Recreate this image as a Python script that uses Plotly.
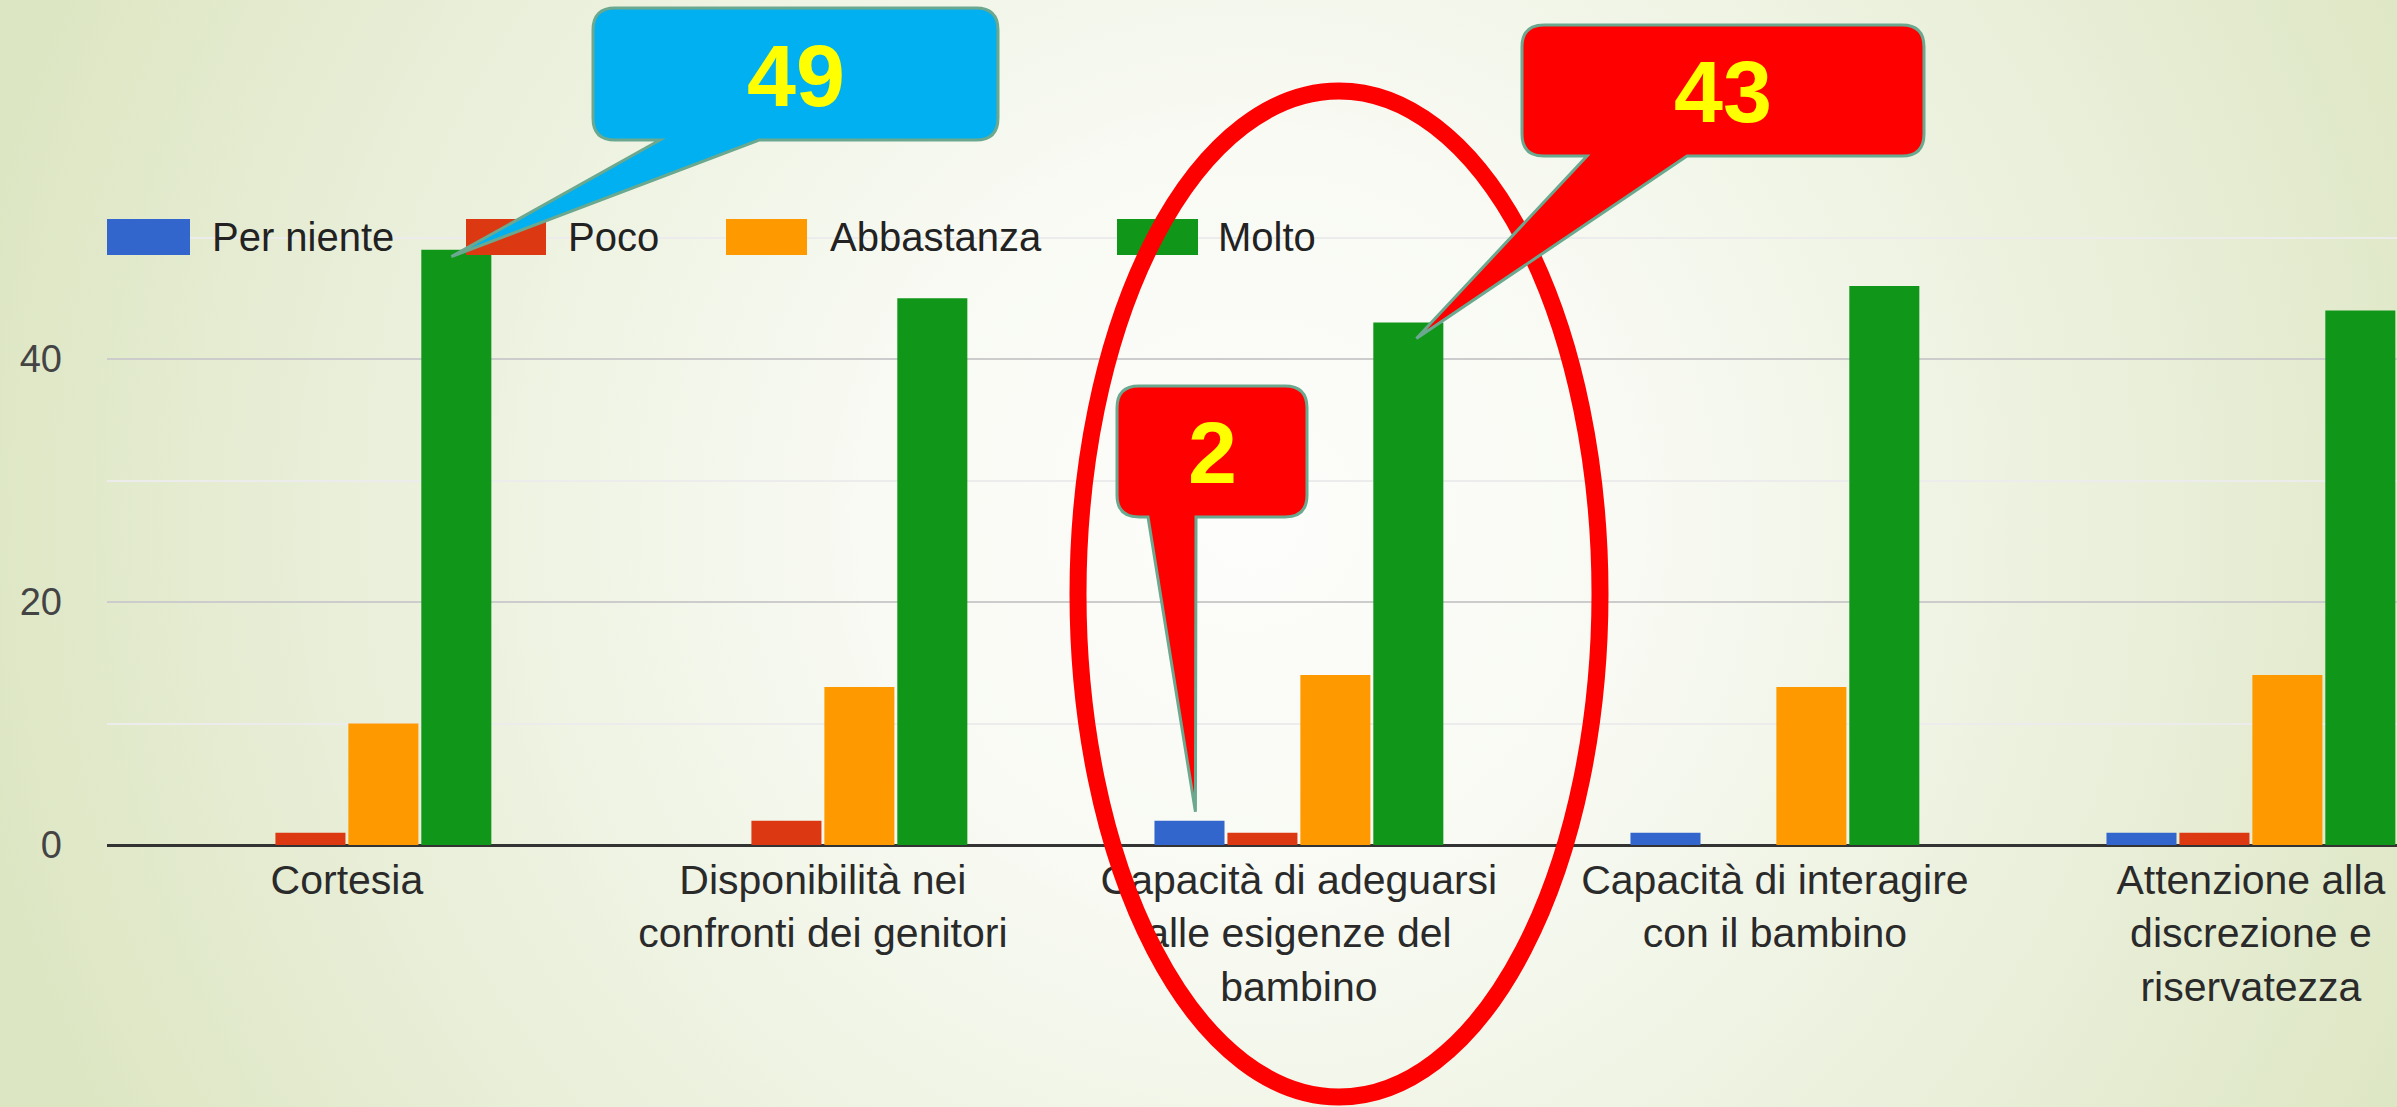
import base64

import plotly.graph_objects as go

categories = [
    "Cortesia",
    "Disponibilità nei<br>confronti dei genitori",
    "Capacità di adeguarsi<br>alle esigenze del<br>bambino",
    "Capacità di interagire<br>con il bambino",
    "Attenzione alla<br>discrezione e<br>riservatezza",
]
series_names = ["Per niente", "Poco", "Abbastanza", "Molto"]
per_niente = [0, 0, 2, 1, 1]
poco = [1, 2, 1, 0, 1]
abbastanza = [10, 13, 14, 13, 14]
molto = [49, 45, 43, 46, 44]
y_ticks = [0, 20, 40]
y_minor = [10, 30, 50]

colors = ["#3366cc", "#dc3912", "#ff9900", "#109618"]
series = [per_niente, poco, abbastanza, molto]

# page geometry (pixels)
W, H = 2397, 1107
L, B = 107, 262
PW, PH = W - L, H - B
UNIT = 12.15          # px per unit on y
SLOT = 476            # px per category
X0 = -0.504
Y1 = PH / UNIT


def px(x):
    return (x - L) / PW


def py(y):
    return (PH - y) / PH


def bar_center(cat, k):
    return L + (cat - X0) * SLOT + (k - 1.5) * 73


def bar_top(v):
    return PH - v * UNIT


fig = go.Figure()
for name, vals, col in zip(series_names, series, colors):
    fig.add_trace(go.Bar(x=list(range(len(categories))), y=vals, name=name,
                         marker=dict(color=col, line=dict(width=0))))

# background gradient
svg = (
    "<svg xmlns='http://www.w3.org/2000/svg' width='2397' height='1107'>"
    "<defs><radialGradient id='g' gradientUnits='userSpaceOnUse' cx='1250' cy='520' r='1300'>"
    "<stop offset='0' stop-color='#fdfdfb'/>"
    "<stop offset='0.3' stop-color='#f8faf3'/>"
    "<stop offset='0.7' stop-color='#e9efd9'/>"
    "<stop offset='1' stop-color='#dde6c3'/>"
    "</radialGradient></defs>"
    "<rect width='2397' height='1107' fill='url(#g)'/></svg>"
)
bg = "data:image/svg+xml;base64," + base64.b64encode(svg.encode()).decode()

shapes = []
annotations = []

# legend (drawn by hand to get the wide swatches)
legend_items = [(107, 190, 210), (466, 546, 566), (726, 807, 828), (1117, 1198, 1216)]
for (sx0, sx1, tx), name, col in zip(legend_items, series_names, colors):
    shapes.append(dict(type="rect", xref="paper", yref="paper",
                       x0=px(sx0), x1=px(sx1), y0=py(255), y1=py(219),
                       fillcolor=col, line=dict(width=0), layer="above"))
    annotations.append(dict(xref="paper", yref="paper", x=px(tx), y=py(237),
                            text=name, showarrow=False, xanchor="left", yanchor="middle",
                            font=dict(size=40, color="#222222")))

# red ellipse
cx, cy, rx, ry = 1339, 594, 261, 503
shapes.append(dict(type="circle", xref="paper", yref="paper",
                   x0=px(cx - rx), x1=px(cx + rx), y0=py(cy + ry), y1=py(cy - ry),
                   line=dict(color="#ff0000", width=17), layer="above"))


def callout(box, base, tip, fill, r=22):
    x0, y0, x1, y1 = box
    bl, br = base
    pts = [
        ("M", (x0 + r, y0)), ("L", (x1 - r, y0)), ("Q", (x1, y0), (x1, y0 + r)),
        ("L", (x1, y1 - r)), ("Q", (x1, y1), (x1 - r, y1)),
        ("L", (br, y1)), ("L", tip), ("L", (bl, y1)),
        ("L", (x0 + r, y1)), ("Q", (x0, y1), (x0, y1 - r)),
        ("L", (x0, y0 + r)), ("Q", (x0, y0), (x0 + r, y0)),
    ]
    path = ""
    for p in pts:
        path += p[0] + " ".join("%.5f,%.5f" % (px(a), py(b)) for a, b in p[1:]) + " "
    shapes.append(dict(type="path", xref="paper", yref="paper", path=path + "Z",
                       fillcolor=fill, line=dict(color="#6aa88f", width=3), layer="above"))


callouts = [
    # (value, box, pointer base, tip, fill)
    (molto[0], (593, 8, 998, 140), (660, 759),
     (bar_center(0, 3) - 5, bar_top(molto[0]) + 7), "#00b0f0"),
    (molto[2], (1522, 25, 1924, 156), (1587, 1687),
     (bar_center(2, 3) + 8, bar_top(molto[2]) + 16), "#ff0000"),
    (per_niente[2], (1117, 386, 1307, 517), (1148, 1196),
     (bar_center(2, 0) + 6, bar_top(per_niente[2]) - 9), "#ff0000"),
]
for val, box, base, tip, fill in callouts:
    callout(box, base, tip, fill)
    annotations.append(dict(xref="paper", yref="paper",
                            x=px((box[0] + box[2]) / 2), y=py((box[1] + box[3]) / 2),
                            text="<b>%d</b>" % val, showarrow=False,
                            xanchor="center", yanchor="middle", yshift=-1,
                            font=dict(size=88, color="#ffff00", family="Liberation Sans")))

fig.update_layout(
    width=W, height=H,
    margin=dict(l=L, r=0, t=0, b=B, pad=0),
    paper_bgcolor="#f4f7ec", plot_bgcolor="rgba(0,0,0,0)",
    font=dict(family="Liberation Sans, Arial, sans-serif"),
    barmode="group", bargap=0.387, bargroupgap=0.04,
    showlegend=False,
    shapes=shapes, annotations=annotations,
    images=[dict(source=bg, xref="paper", yref="paper", x=px(0), y=py(0),
                 sizex=W / PW, sizey=H / PH, xanchor="left", yanchor="top",
                 sizing="stretch", layer="below")],
    xaxis=dict(range=[X0, X0 + PW / SLOT], tickmode="array",
               tickvals=list(range(len(categories))), ticktext=categories,
               showgrid=False, zeroline=False, showline=False, ticks="",
               tickfont=dict(size=41, color="#2a2a2a"), ticklabelstandoff=7,
               fixedrange=True),
    yaxis=dict(range=[0, Y1], tickmode="array", tickvals=y_ticks,
               ticktext=[str(v) for v in y_ticks],
               showgrid=True, gridcolor="#cccccc", gridwidth=2,
               minor=dict(tickmode="array", tickvals=y_minor, showgrid=True,
                          gridcolor="#ececec", gridwidth=2),
               zeroline=True, zerolinecolor="#333333", zerolinewidth=3,
               showline=False, ticks="", ticklabelstandoff=44,
               tickfont=dict(size=38, color="#444444"), fixedrange=True),
)

fig.write_html("out.html", config={"displayModeBar": False},
               post_script="document.body.style.margin='0';document.body.style.overflow='hidden';")
